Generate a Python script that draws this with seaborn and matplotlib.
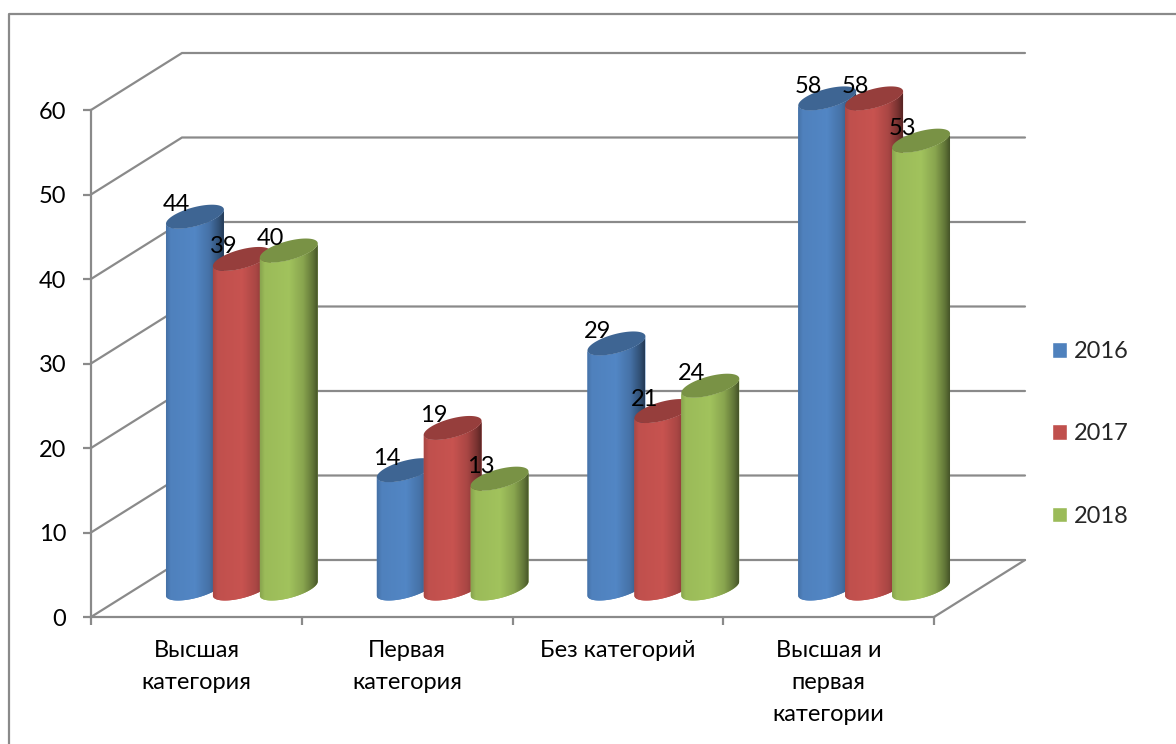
import numpy as np
import pandas as pd
import seaborn as sns
from matplotlib import pyplot as plt
from matplotlib.colors import to_rgb
from matplotlib.lines import Line2D
from matplotlib.ticker import FixedLocator

categories = ['Высшая\nкатегория', 'Первая\nкатегория', 'Без категорий', 'Высшая и\nпервая\nкатегории']
years = ['2016', '2017', '2018']
values_2016 = [44, 14, 29, 58]
values_2017 = [39, 19, 21, 58]
values_2018 = [40, 13, 24, 53]
colors = ['#4F81BD', '#C0504D', '#9BBB59']
y_ticks = [0, 10, 20, 30, 40, 50, 60]

GRAY = '#8a8a8a'
LW = 1.6
FONT = 17
W, H = 1176, 744
LEFT, RIGHT, BOTTOM, TOP = 91, 934, 617, 110   # front plane, in pixels
PT = 72 / 100

df = pd.DataFrame({
    'category': categories * 3,
    'year': np.repeat(years, 4),
    'value': values_2016 + values_2017 + values_2018,
})

sns.set_theme(style='white')
plt.rcParams['font.family'] = ['Lato', 'Open Sans']

fig = plt.figure(figsize=(W / 100, H / 100), dpi=100)
ax = fig.add_axes([LEFT / W, 1 - BOTTOM / H, (RIGHT - LEFT) / W, (BOTTOM - TOP) / H])
sns.barplot(data=df, x='category', y='value', hue='year', palette=colors, saturation=1,
            width=0.668, gap=0, errorbar=None, ax=ax)
ax.set_xlim(-0.5, 3.5)
ax.set_ylim(0, 60)

# pixels to data units
sx = 4 / (RIGHT - LEFT)
sy = 60 / (BOTTOM - TOP)
depth_x = 91 * sx
depth_y = 57 * sy

# back wall
for v in y_ticks:
    ax.plot([-0.5, -0.5 + depth_x, 3.5 + depth_x], [v, v + depth_y, v + depth_y],
            color=GRAY, lw=LW, clip_on=False, zorder=1, solid_joinstyle='miter')
ax.plot([3.5, 3.5 + depth_x], [0, depth_y], color=GRAY, lw=LW, clip_on=False, zorder=1)

# cylinders are built on the bars seaborn laid out
t_left = np.deg2rad(215.9)
t = np.linspace(t_left, t_left + np.pi, 60)
t_full = np.linspace(0, 2 * np.pi, 120)
stops = [0, 0.08, 0.5, 0.75, 0.92, 1]
shade = [0.88, 1.0, 1.04, 0.88, 0.62, 0.45]
ramp = np.interp(np.linspace(0, 1, 116), stops, shade)

bars = [(cat, hue) for cat in range(4) for hue in range(3)]
z = 3
for cat, hue in bars:
    bar = ax.containers[hue][cat]
    bar.set_visible(False)
    rgb = np.array(to_rgb(colors[hue]))
    grad = np.clip(ramp[None, :, None] * rgb[None, None, :], 0, 1)
    cx = bar.get_x() + bar.get_width() / 2 + depth_x / 2
    base = depth_y / 2
    top = base + bar.get_height()
    a, b, c = bar.get_width() / 2, 17 * sx, 12 * sy

    ex = cx + a * np.cos(t) + b * np.sin(t)
    ey = c * np.sin(t)
    outline = ax.fill(np.r_[ex, ex[::-1]], np.r_[base + ey, top + ey[::-1]],
                      color=colors[hue], lw=0, clip_on=False, zorder=z)[0]
    half = 29 * sx
    im = ax.imshow(grad, extent=(cx - half, cx + half, base - 3, top + 3), aspect='auto',
                   interpolation='bilinear', zorder=z + 0.1)
    im.set_clip_box(fig.bbox)
    im.set_clip_path(outline)
    ax.fill(cx + a * np.cos(t_full) + b * np.sin(t_full), top + c * np.sin(t_full),
            color=rgb * 0.78, lw=0, clip_on=False, zorder=z + 0.2)
    z += 1

for cat, hue in bars:
    bar = ax.containers[hue][cat]
    ax.annotate(f'{bar.get_height():.0f}',
                (bar.get_x() + bar.get_width() / 2 + depth_x / 2, bar.get_height() + depth_y / 2),
                xytext=(-18.5 * PT, 12 * PT), textcoords='offset points', ha='center', va='center',
                fontsize=FONT, color='black', zorder=50, annotation_clip=False)

ax.set_xlim(-0.5, 3.5)
ax.set_ylim(0, 60)
ax.set_xlabel('')
ax.set_ylabel('')
ax.set_yticks(y_ticks)
ax.xaxis.set_minor_locator(FixedLocator([-0.5, 0.5, 1.5, 2.5, 3.5]))
ax.tick_params(axis='x', which='major', length=0, pad=16.5, labelsize=FONT, labelcolor='black')
ax.tick_params(axis='x', which='minor', bottom=True, length=8 * PT, width=LW, color=GRAY)
ax.tick_params(axis='y', left=True, length=8 * PT, width=LW, color=GRAY, pad=12, labelsize=FONT, labelcolor='black')
for label in ax.get_xticklabels():
    label.set_linespacing(1.66)
sns.despine(ax=ax)
for side in ['left', 'bottom']:
    ax.spines[side].set_color(GRAY)
    ax.spines[side].set_linewidth(LW)
    ax.spines[side].set_zorder(2)
ax.patch.set_alpha(0)

sns.move_legend(ax, 'center left', bbox_to_anchor=(1052 / W, 1 - 434 / H),
                bbox_transform=fig.transFigure, title=None, frameon=False, fontsize=FONT,
                borderaxespad=0, borderpad=0, handlelength=0.64, handleheight=0.64,
                handletextpad=0.3, labelspacing=2.6)

# frame of the picture: only top and left sides show
fig.add_artist(Line2D([9 / W, 9 / W, 1], [0, 1 - 14 / H, 1 - 14 / H], color=GRAY, lw=LW))

fig.savefig('out.png', dpi=100)
